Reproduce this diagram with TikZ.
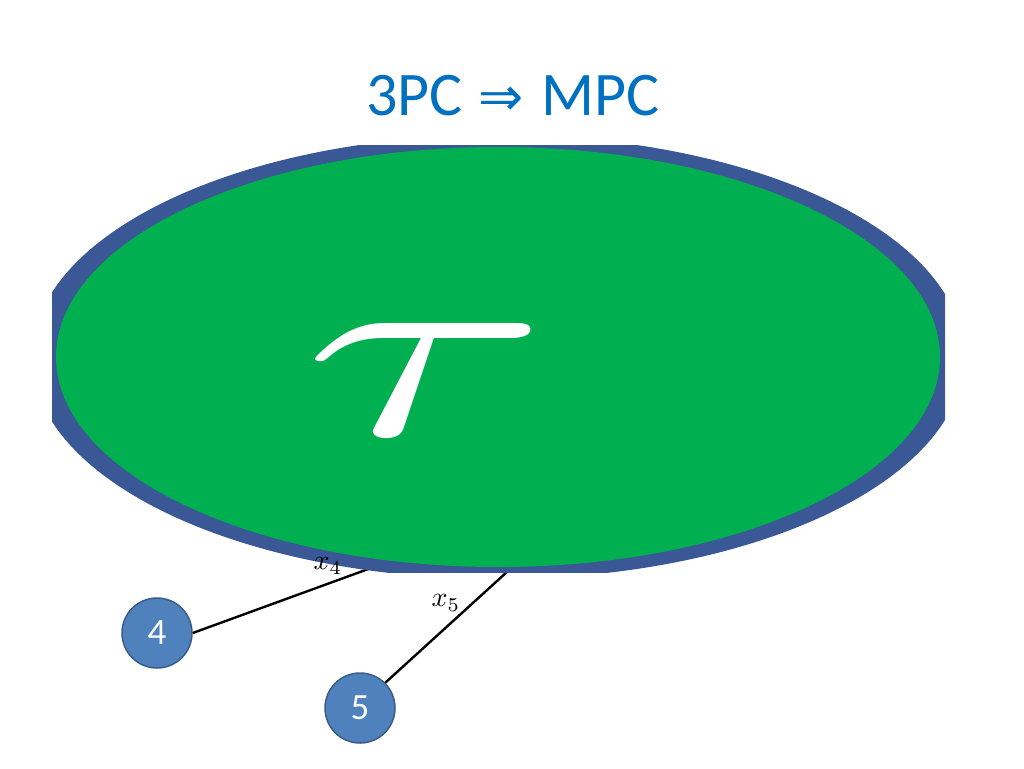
\documentclass[tikz,border=0pt]{standalone}
\usepackage{fontspec}
\setmainfont{Carlito}
\newfontfamily\symfont{DejaVu Sans}
\definecolor{titleblue}{RGB}{0,112,192}
\definecolor{rimblue}{RGB}{58,88,150}
\definecolor{tgreen}{RGB}{0,176,80}
\definecolor{pfill}{RGB}{79,129,189}
\definecolor{pedge}{RGB}{56,93,138}
\tikzset{
  party/.style={circle, fill=pfill, draw=pedge, line width=1.5pt, minimum size=70pt, inner sep=0pt,
    text=white, font=\fontsize{37}{37}\selectfont},
  wire/.style={draw=black, line width=2.4pt},
  wlabel/.style={scale=2.8, inner sep=0pt}
}
\begin{document}
\begin{tikzpicture}[x=1pt,y=-1pt]
\useasboundingbox (0,0) rectangle (1024,768);
% title
\node[anchor=base, text=titleblue, font=\fontsize{62}{62}\selectfont, inner sep=0pt] (title) at (513,115)
  {3PC\hspace{16pt}{\symfont\fontsize{54}{54}\selectfont ⇒}\hspace{18pt}MPC};
% parties
\node[party] (p4) at (157,633) {4};
\node[party] (p5) at (360,708) {5};
\coordinate (e4) at (382,564);
\coordinate (e5) at (508,571);
\draw[wire] (p4.east) -- (e4);
\draw[wire] (p5.45) -- (e5);
% functionality
\begin{scope}
\clip (52,145) rectangle (945,572);
\fill[rimblue] (498,357) ellipse [x radius=466pt, y radius=222pt];
\fill[tgreen] (498,357) ellipse [x radius=442pt, y radius=210pt];
\end{scope}
\node[text=white, xscale=44.5, yscale=26, inner sep=0pt] (tau) at (426,380) {$\tau$};
% labels
\node[wlabel] (l4) at (328,566) {$x_4$};
\node[wlabel] (l5) at (446,603) {$x_5$};
\end{tikzpicture}
\end{document}
